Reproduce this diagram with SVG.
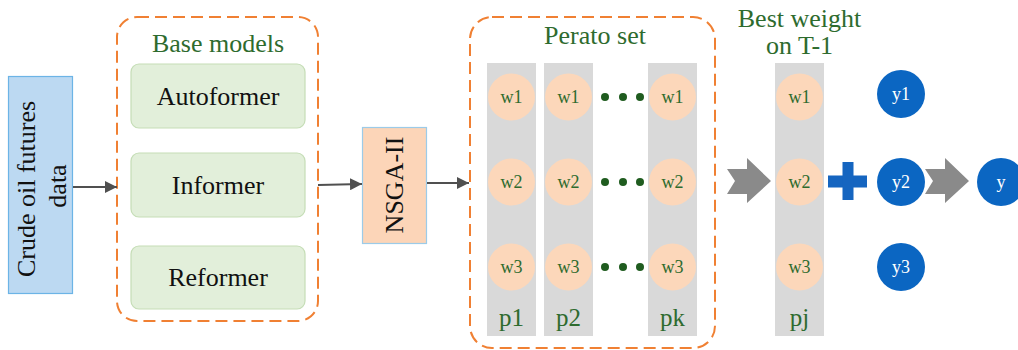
<svg xmlns="http://www.w3.org/2000/svg" width="1018" height="350" viewBox="0 0 1018 350" font-family="'Liberation Serif', 'Times New Roman', serif">
  <style>
    text { font-family: "Liberation Serif", "Times New Roman", serif; }
    .title { font-size: 26px; fill: #2E6B2E; text-anchor: middle; }
    .model { fill: #E2EFDA; stroke: #C5DDB6; stroke-width: 1.2; }
    .model-label { font-size: 26px; fill: #111; text-anchor: middle; }
    .group { fill: none; stroke: #F08033; stroke-width: 2; stroke-dasharray: 12 6; }
    .col { fill: #D9D9D9; }
    .w { fill: #FCD7BA; }
    .w-label { font-size: 18px; fill: #2E6B2E; text-anchor: middle; }
    .p-label { font-size: 25px; fill: #2E6B2E; text-anchor: middle; }
    .dot { fill: #1F5C1F; }
    .y { fill: #0B66C2; }
    .y-label { font-size: 18px; fill: #FFFFFF; text-anchor: middle; }
    .link { stroke: #505050; stroke-width: 2; fill: none; marker-end: url(#head); }
    .block-arrow { fill: #8A8A8A; }
  </style>
  <defs>
    <marker id="head" viewBox="0 0 12 12" refX="12" refY="6" markerWidth="12" markerHeight="12" markerUnits="userSpaceOnUse" orient="auto">
      <path d="M0,0 L12,6 L0,12 z" fill="#505050"/>
    </marker>
    <g id="notched-arrow">
      <path d="M0,-12 L20,-12 L20,-23 L44,0 L20,22 L20,13 L0,13 L8,0 z"/>
    </g>
  </defs>

  <rect width="1018" height="350" fill="#FFFFFF"/>

  <!-- input data -->
  <g id="data">
    <rect x="8.5" y="76.5" width="64" height="217" fill="#BCD9F2" stroke="#6CB4E6" stroke-width="1.2"/>
    <text class="model-label" transform="translate(35,189) rotate(-90)">Crude oil futures</text>
    <text class="model-label" transform="translate(66,186) rotate(-90)">data</text>
  </g>

  <!-- base models group -->
  <g id="base-models">
    <rect class="group" x="117" y="17" width="201" height="304" rx="20"/>
    <text class="title" x="218" y="52">Base models</text>
    <g id="autoformer">
      <rect class="model" x="131" y="64" width="174" height="64" rx="8"/>
      <text class="model-label" x="218" y="105">Autoformer</text>
    </g>
    <g id="informer">
      <rect class="model" x="131" y="153" width="174" height="64" rx="8"/>
      <text class="model-label" x="218" y="194">Informer</text>
    </g>
    <g id="reformer">
      <rect class="model" x="131" y="246" width="174" height="63" rx="8"/>
      <text class="model-label" x="218" y="286">Reformer</text>
    </g>
  </g>

  <!-- optimiser -->
  <g id="nsga">
    <rect x="362.5" y="127.5" width="64" height="116" fill="#FCD5B8" stroke="#9CCBE8" stroke-width="1.2"/>
    <text class="model-label" transform="translate(403,185) rotate(-90)">NSGA-II</text>
  </g>

  <!-- Pareto front candidates -->
  <g id="perato-set">
    <rect class="group" x="470" y="17" width="245" height="331" rx="22"/>
    <text class="title" x="595" y="44">Perato set</text>

    <g id="p1">
      <rect class="col" x="487" y="63" width="49" height="273"/>
      <circle class="w" cx="511.5" cy="97" r="23.5"/>
      <circle class="w" cx="511.5" cy="182" r="23.5"/>
      <circle class="w" cx="511.5" cy="267" r="23.5"/>
      <text class="w-label" x="511.5" y="103">w1</text>
      <text class="w-label" x="511.5" y="188">w2</text>
      <text class="w-label" x="511.5" y="273">w3</text>
      <text class="p-label" x="511.5" y="326">p1</text>
    </g>
    <g id="p2">
      <rect class="col" x="544" y="63" width="49" height="273"/>
      <circle class="w" cx="568.5" cy="97" r="23.5"/>
      <circle class="w" cx="568.5" cy="182" r="23.5"/>
      <circle class="w" cx="568.5" cy="267" r="23.5"/>
      <text class="w-label" x="568.5" y="103">w1</text>
      <text class="w-label" x="568.5" y="188">w2</text>
      <text class="w-label" x="568.5" y="273">w3</text>
      <text class="p-label" x="568.5" y="326">p2</text>
    </g>
    <g id="ellipsis">
      <circle class="dot" cx="605" cy="97" r="4"/>
      <circle class="dot" cx="623" cy="97" r="4"/>
      <circle class="dot" cx="640" cy="97" r="4"/>
      <circle class="dot" cx="605" cy="182" r="4"/>
      <circle class="dot" cx="623" cy="182" r="4"/>
      <circle class="dot" cx="640" cy="182" r="4"/>
      <circle class="dot" cx="605" cy="267" r="4"/>
      <circle class="dot" cx="623" cy="267" r="4"/>
      <circle class="dot" cx="640" cy="267" r="4"/>
    </g>
    <g id="pk">
      <rect class="col" x="648" y="63" width="49" height="273"/>
      <circle class="w" cx="672.5" cy="97" r="23.5"/>
      <circle class="w" cx="672.5" cy="182" r="23.5"/>
      <circle class="w" cx="672.5" cy="267" r="23.5"/>
      <text class="w-label" x="672.5" y="103">w1</text>
      <text class="w-label" x="672.5" y="188">w2</text>
      <text class="w-label" x="672.5" y="273">w3</text>
      <text class="p-label" x="672.5" y="326">pk</text>
    </g>
  </g>

  <!-- selected weights -->
  <g id="best-weight">
    <text class="title" x="799.5" y="27">Best weight</text>
    <text class="title" x="799.5" y="54">on T-1</text>
    <rect class="col" x="775" y="63" width="49" height="273"/>
    <circle class="w" cx="799.5" cy="97" r="23.5"/>
    <circle class="w" cx="799.5" cy="182" r="23.5"/>
    <circle class="w" cx="799.5" cy="267" r="23.5"/>
    <text class="w-label" x="799.5" y="103">w1</text>
    <text class="w-label" x="799.5" y="188">w2</text>
    <text class="w-label" x="799.5" y="273">w3</text>
    <text class="p-label" x="799.5" y="326">pj</text>
  </g>

  <!-- weighted combination -->
  <g id="plus">
    <rect x="828" y="175.5" width="39" height="12" fill="#1565C0"/>
    <rect x="842.5" y="162" width="11" height="38" fill="#1565C0"/>
  </g>

  <g id="y1">
    <circle class="y" cx="901" cy="94" r="24"/>
    <text class="y-label" x="901" y="100">y1</text>
  </g>
  <g id="y2">
    <circle class="y" cx="901" cy="182" r="24"/>
    <text class="y-label" x="901" y="188">y2</text>
  </g>
  <g id="y3">
    <circle class="y" cx="901" cy="267" r="24"/>
    <text class="y-label" x="901" y="273">y3</text>
  </g>
  <g id="y">
    <circle class="y" cx="1001" cy="182" r="24"/>
    <text class="y-label" x="1001" y="188">y</text>
  </g>

  <!-- connectors -->
  <g id="connectors">
    <line class="link" x1="73" y1="187" x2="117" y2="187"/>
    <line class="link" x1="318" y1="185" x2="362" y2="184"/>
    <line class="link" x1="427" y1="183" x2="469" y2="183"/>
    <use href="#notched-arrow" class="block-arrow" transform="translate(727,181)"/>
    <use href="#notched-arrow" class="block-arrow" transform="translate(925,181)"/>
  </g>
</svg>
